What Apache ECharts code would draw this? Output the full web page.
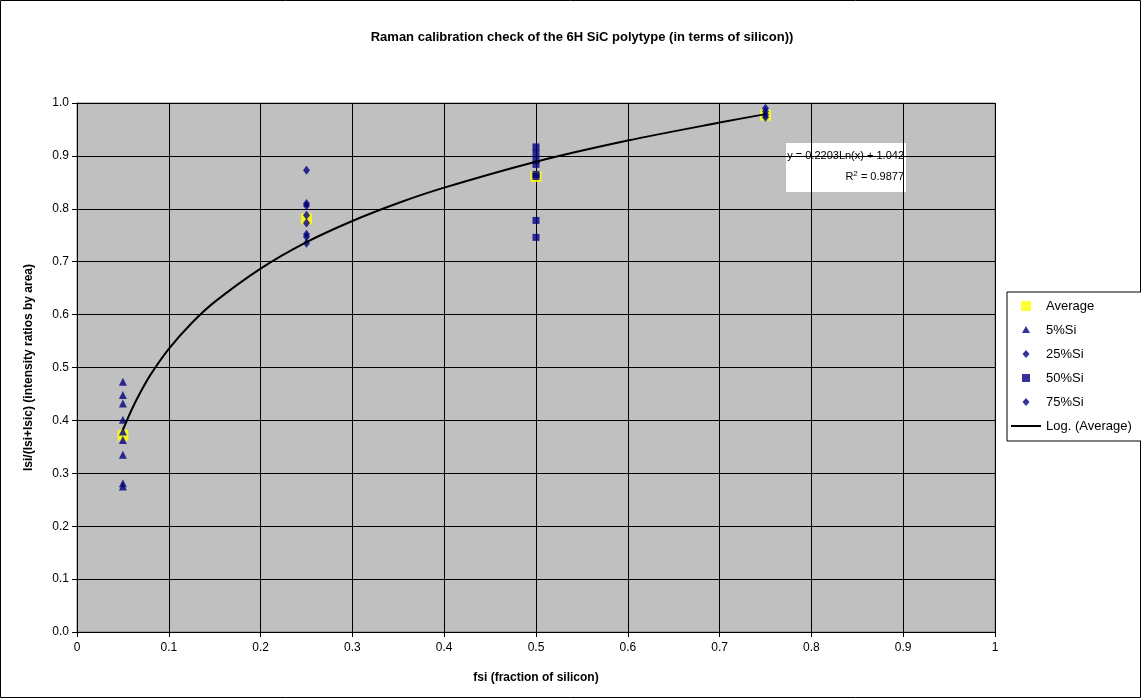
<!DOCTYPE html>
<html>
<head>
<meta charset="utf-8">
<script src="https://cdn.jsdelivr.net/npm/echarts@6/dist/echarts.min.js"></script>
<style>
html, body { margin: 0; padding: 0; background: #fff; }
#main { width: 1141px; height: 698px; }
</style>
</head>
<body>
<div id="main"></div>
<script>
// data
var avgX = [0.05, 0.25, 0.5, 0.75];
var avgY = [0.372, 0.781, 0.861, 0.977];
var si5Y = [0.473, 0.448, 0.432, 0.401, 0.379, 0.363, 0.335, 0.281, 0.275];
var si25Y = [0.873, 0.810, 0.806, 0.788, 0.773, 0.752, 0.747, 0.735];
var si50Y = [0.917, 0.905, 0.892, 0.884, 0.865, 0.861, 0.778, 0.746];
var si75Y = [0.990, 0.984, 0.978, 0.973];
// trendline points (Log. (Average))
var trendX = [0.05, 0.06, 0.07, 0.08, 0.1, 0.125, 0.15, 0.2, 0.25, 0.3, 0.35, 0.4, 0.5, 0.6, 0.7, 0.75];
var trendY = [0.382, 0.422, 0.456, 0.486, 0.535, 0.584, 0.624, 0.687, 0.737, 0.777, 0.811, 0.840, 0.889, 0.929, 0.963, 0.979];
var xTicks = [0, 0.1, 0.2, 0.3, 0.4, 0.5, 0.6, 0.7, 0.8, 0.9, 1];

function pairs(x, ys) {
    var out = [];
    for (var i = 0; i < ys.length; i++) {
        out.push([typeof x === 'number' ? x : x[i], ys[i]]);
    }
    return out;
}

var font = '"Liberation Sans", Arial, sans-serif';
var navy = '#000080';
// legend icons drawn in a 30x10 box (M0,0 M30,10 keeps the box size)
var box = 'path://M0,0 M30,10 ';

var myChart = echarts.init(document.getElementById('main'));
var option = {
    animation: false,
    backgroundColor: '#fff',
    textStyle: { fontFamily: font },
    title: {
        text: 'Raman calibration check of the 6H SiC polytype (in terms of silicon))',
        left: 577,
        top: 26,
        textAlign: 'center',
        textStyle: { fontFamily: font, fontSize: 13, fontWeight: 'bold', color: '#000' }
    },
    grid: {
        left: 77,
        top: 103,
        width: 918,
        height: 529,
        show: true,
        backgroundColor: '#c0c0c0',
        borderColor: '#808080',
        borderWidth: 1
    },
    legend: {
        orient: 'vertical',
        left: 1007,
        top: 292,
        itemGap: 10,
        itemWidth: 30,
        itemHeight: 10,
        padding: [7, 40, 8, 4],
        borderColor: '#000',
        borderWidth: 1,
        backgroundColor: '#fff',
        borderRadius: 0,
        textStyle: { fontFamily: font, fontSize: 13, color: '#000', lineHeight: 14 },
        data: [
            { name: 'Average', icon: box + 'M10,0 L20,0 L20,10 L10,10 Z', itemStyle: { color: '#ffff00', borderWidth: 0 } },
            { name: '5%Si', icon: box + 'M11,8 L15,1 L19,8 Z', itemStyle: { color: navy, borderWidth: 0 } },
            { name: '25%Si', icon: box + 'M15,1 L18.5,5 L15,9 L11.5,5 Z', itemStyle: { color: navy, borderWidth: 0 } },
            { name: '50%Si', icon: box + 'M11,1 L19,1 L19,9 L11,9 Z', itemStyle: { color: navy, borderWidth: 0 } },
            { name: '75%Si', icon: box + 'M15,1 L18.5,5 L15,9 L11.5,5 Z', itemStyle: { color: navy, borderWidth: 0 } },
            { name: 'Log. (Average)', icon: box + 'M0,4 L30,4 L30,6 L0,6 Z', itemStyle: { color: '#000', borderWidth: 0 } }
        ]
    },
    xAxis: {
        type: 'value',
        min: 0,
        max: 1,
        interval: 0.1,
        name: 'fsi (fraction of silicon)',
        nameLocation: 'middle',
        nameGap: 40,
        nameTextStyle: { fontFamily: font, fontSize: 12, fontWeight: 'bold', color: '#000' },
        axisLine: { show: true, onZero: false, lineStyle: { color: '#000' } },
        axisTick: { show: true, length: 5, inside: false, lineStyle: { color: '#000' } },
        axisLabel: {
            fontFamily: font, fontSize: 12, color: '#000', margin: 10,
            formatter: function (v) {
                for (var i = 0; i < xTicks.length; i++) {
                    if (Math.abs(xTicks[i] - v) < 1e-6) return String(xTicks[i]);
                }
                return '';
            }
        },
        splitLine: { show: true, lineStyle: { color: '#000', width: 1 } }
    },
    yAxis: {
        type: 'value',
        min: 0,
        max: 1,
        interval: 0.1,
        name: 'Isi/(Isi+Isic) (intensity ratios by area)',
        nameLocation: 'middle',
        nameGap: 42,
        nameRotate: 90,
        nameTextStyle: { fontFamily: font, fontSize: 12, fontWeight: 'bold', color: '#000' },
        axisLine: { show: true, onZero: false, lineStyle: { color: '#000' } },
        axisTick: { show: true, length: 5, lineStyle: { color: '#000' } },
        axisLabel: {
            fontFamily: font, fontSize: 12, color: '#000', margin: 8,
            formatter: function (v) { return v.toFixed(1); }
        },
        splitLine: { show: true, lineStyle: { color: '#000', width: 1 } }
    },
    series: [
        {
            name: 'Average',
            type: 'scatter',
            symbol: 'rect',
            symbolSize: 11,
            itemStyle: { color: '#ffff00' },
            data: pairs(avgX, avgY),
            z: 2
        },
        {
            name: '5%Si',
            type: 'scatter',
            symbol: 'triangle',
            symbolSize: 8,
            itemStyle: { color: navy },
            data: pairs(0.05, si5Y),
            z: 3
        },
        {
            name: '25%Si',
            type: 'scatter',
            symbol: 'diamond',
            symbolSize: [7, 9],
            itemStyle: { color: navy },
            data: pairs(0.25, si25Y),
            z: 3
        },
        {
            name: '50%Si',
            type: 'scatter',
            symbol: 'rect',
            symbolSize: 7,
            itemStyle: { color: navy },
            data: pairs(0.5, si50Y),
            z: 3
        },
        {
            name: '75%Si',
            type: 'scatter',
            symbol: 'diamond',
            symbolSize: [7, 9],
            itemStyle: { color: navy },
            data: pairs(0.75, si75Y),
            z: 3
        },
        {
            name: 'Log. (Average)',
            type: 'line',
            smooth: 0.3,
            showSymbol: false,
            symbol: 'none',
            lineStyle: { color: '#000', width: 2 },
            itemStyle: { color: '#000' },
            data: pairs(trendX, trendY),
            z: 4
        }
    ],
    graphic: [
        {
            type: 'rect',
            x: 0.5,
            y: 0.5,
            shape: { width: 1140, height: 697 },
            style: { fill: 'none', stroke: '#000', lineWidth: 1 },
            silent: true
        },
        {
            type: 'group',
            x: 786,
            y: 143,
            z: 100,
            children: [
                {
                    type: 'rect',
                    shape: { x: 0, y: 0, width: 120, height: 49 },
                    style: { fill: '#fff', stroke: null }
                },
                {
                    type: 'text',
                    x: 118,
                    y: 13,
                    style: {
                        text: 'y = 0.2203Ln(x) + 1.042',
                        align: 'right',
                        verticalAlign: 'middle',
                        font: '11px "Liberation Sans", Arial, sans-serif',
                        fill: '#000'
                    }
                },
                {
                    type: 'text',
                    x: 118,
                    y: 34,
                    style: {
                        rich: { s: { fontSize: 8, verticalAlign: 'top', padding: [0, 0, 6, 0] } },
                        text: 'R{s|2} = 0.9877',
                        align: 'right',
                        verticalAlign: 'middle',
                        font: '11px "Liberation Sans", Arial, sans-serif',
                        fill: '#000'
                    }
                }
            ]
        }
    ]
};
myChart.setOption(option);
</script>
</body>
</html>
